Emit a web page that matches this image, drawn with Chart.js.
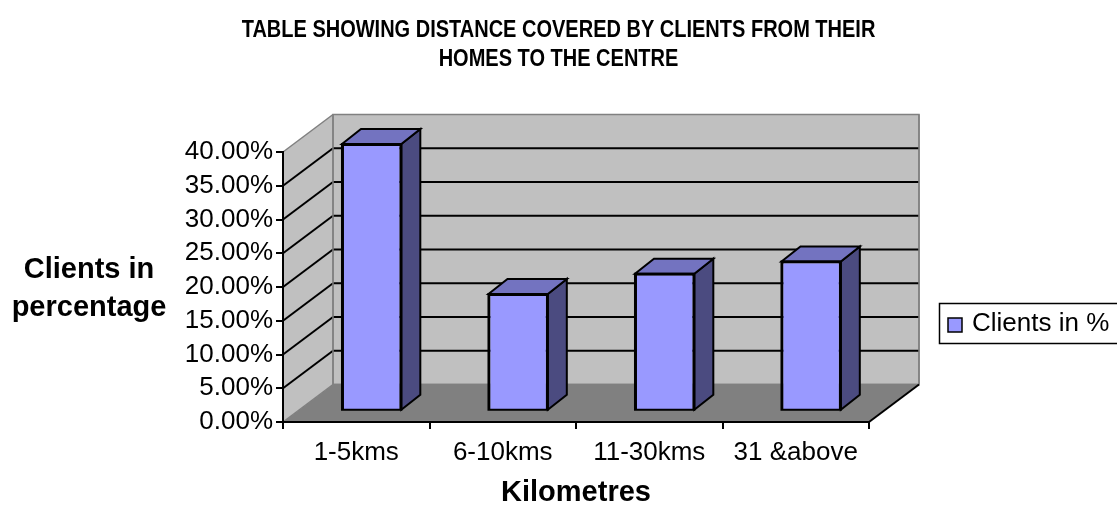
<!DOCTYPE html>
<html>
<head>
<meta charset="utf-8">
<script src="https://cdn.jsdelivr.net/npm/chart.js@4"></script>
<style>
  html, body { margin: 0; padding: 0; background: #ffffff; }
  canvas { display: block; }
</style>
</head>
<body>
<canvas id="c" width="1117" height="515"></canvas>
<script>
// ---- data ----
const categories = ['1-5kms', '6-10kms', '11-30kms', '31 &above'];
const clientsPct = [39.5, 17.3, 20.3, 22.1];
const seriesLabel = 'Clients in %';
const titleLines = ['TABLE SHOWING DISTANCE COVERED BY CLIENTS FROM THEIR', 'HOMES TO THE CENTRE'];
const yTitleLines = ['Clients in', 'percentage'];
const xTitle = 'Kilometres';
const yTickMin = 0, yTickMax = 40, yTickStep = 5;

// ---- style / geometry ----
const FONT = '"Liberation Sans", Arial, Helvetica, sans-serif';
const DX = 50, DY = -37.5;      // wall depth
const BX = 15.4, BY = -11.3;    // bar front offset into depth
const SX = 19, SY = -15;        // bar depth
const FRONT = '#9999FF', TOP = '#7373C0', SIDE = '#4B4B80';
const WALL = '#C0C0C0', FLOOR = '#808080', EDGE = '#808080';

function poly(ctx, pts, fill, stroke, lw) {
  ctx.beginPath();
  ctx.moveTo(pts[0][0], pts[0][1]);
  for (let i = 1; i < pts.length; i++) ctx.lineTo(pts[i][0], pts[i][1]);
  ctx.closePath();
  if (fill) { ctx.fillStyle = fill; ctx.fill(); }
  if (stroke) { ctx.strokeStyle = stroke; ctx.lineWidth = lw || 1; ctx.stroke(); }
}
function line(ctx, x1, y1, x2, y2, color, lw) {
  ctx.beginPath(); ctx.moveTo(x1, y1); ctx.lineTo(x2, y2);
  ctx.strokeStyle = color; ctx.lineWidth = lw; ctx.stroke();
}
function stretchedText(ctx, text, x, y, sy) {
  ctx.save();
  ctx.translate(x, y);
  ctx.scale(1, sy);
  ctx.fillText(text, 0, 0);
  ctx.restore();
}

const threeD = {
  id: 'threeD',
  beforeDraw(chart) {
    const ctx = chart.ctx, a = chart.chartArea, y = chart.scales.y;
    ctx.save();
    ctx.lineJoin = 'miter';
    // left wall
    poly(ctx, [[a.left, a.top], [a.left + DX, a.top + DY], [a.left + DX, a.bottom + DY], [a.left, a.bottom]], WALL);
    // back wall
    poly(ctx, [[a.left + DX, a.top + DY], [a.right + DX, a.top + DY], [a.right + DX, a.bottom + DY], [a.left + DX, a.bottom + DY]], WALL, EDGE, 1.5);
    // floor
    poly(ctx, [[a.left, a.bottom], [a.right, a.bottom], [a.right + DX, a.bottom + DY], [a.left + DX, a.bottom + DY]], FLOOR);
    // grid lines
    for (let v = yTickMin; v <= yTickMax + 1e-9; v += yTickStep) {
      const py = y.getPixelForValue(v);
      const edge = (v === yTickMin || v === yTickMax);
      line(ctx, a.left, py, a.left + DX, py + DY, edge ? EDGE : '#000', edge ? 1.5 : 2);
      if (!edge) line(ctx, a.left + DX, py + DY, a.right + DX, py + DY, '#000', 2);
    }
    // wall edges
    line(ctx, a.left + DX, a.top + DY, a.left + DX, a.bottom + DY, EDGE, 1.5);
    line(ctx, a.left + DX, a.bottom + DY, a.right + DX, a.bottom + DY, EDGE, 1.5);
    line(ctx, a.right + DX, a.top + DY, a.right + DX, a.bottom + DY, EDGE, 1.5);
    // floor right edge
    line(ctx, a.right, a.bottom, a.right + DX, a.bottom + DY, '#000', 2);
    ctx.restore();
  },
  beforeDatasetsDraw(chart) {
    chart.ctx.save();
    chart.ctx.translate(BX, BY);
  },
  afterDatasetsDraw(chart) {
    const ctx = chart.ctx;
    ctx.restore();
    ctx.save();
    ctx.lineJoin = 'miter';
    const meta = chart.getDatasetMeta(0);
    meta.data.forEach(bar => {
      const p = bar.getProps(['x', 'y', 'base', 'width'], true);
      const l = p.x - p.width / 2 + BX, r = p.x + p.width / 2 + BX;
      const t = p.y + BY, b = p.base + BY;
      poly(ctx, [[r, t], [r + SX, t + SY], [r + SX, b + SY], [r, b]], SIDE, '#000', 2);
      poly(ctx, [[l, t], [l + SX, t + SY], [r + SX, t + SY], [r, t]], TOP, '#000', 2);
      poly(ctx, [[l, t], [r, t], [r, b], [l, b]], null, '#000', 2);
    });
    ctx.restore();
  },
  afterDraw(chart) {
    const ctx = chart.ctx, a = chart.chartArea;
    ctx.save();
    ctx.fillStyle = '#000';
    ctx.textAlign = 'center';
    ctx.textBaseline = 'middle';
    // main title
    ctx.font = 'bold 20px ' + FONT;
    stretchedText(ctx, titleLines[0], 558.5, 30, 1.18);
    stretchedText(ctx, titleLines[1], 558.5, 59, 1.18);
    // y title
    ctx.font = 'bold 29px ' + FONT;
    ctx.fillText(yTitleLines[0], 89, 270);
    ctx.fillText(yTitleLines[1], 89, 308);
    // x title
    ctx.fillText(xTitle, (a.left + a.right) / 2, 493);
    // legend
    ctx.lineWidth = 1.5;
    ctx.strokeStyle = '#000';
    ctx.strokeRect(939.5, 303.5, 200, 40);
    ctx.fillStyle = FRONT;
    ctx.fillRect(948, 318, 14, 14);
    ctx.strokeRect(948, 318, 14, 14);
    ctx.fillStyle = '#000';
    ctx.textAlign = 'left';
    ctx.font = '26px ' + FONT;
    ctx.fillText(chart.data.datasets[0].label, 972, 324);
    ctx.restore();
  }
};

new Chart(document.getElementById('c'), {
  type: 'bar',
  data: {
    labels: categories,
    datasets: [{
      label: seriesLabel,
      data: clientsPct,
      backgroundColor: FRONT,
      borderColor: '#000',
      borderWidth: 2,
      barPercentage: 0.405,
      categoryPercentage: 1.0
    }]
  },
  options: {
    responsive: false,
    devicePixelRatio: 1,
    animation: false,
    layout: { padding: { left: 0, top: 152, right: 248, bottom: 0 } },
    plugins: { legend: { display: false }, title: { display: false }, tooltip: { enabled: false } },
    scales: {
      x: {
        afterFit(s) { s.height = 93; },
        grid: { offset: true, drawOnChartArea: false, drawTicks: true, tickLength: 7, color: '#000', lineWidth: 2 },
        border: { display: true, color: '#000', width: 2 },
        ticks: { color: '#000', font: { family: FONT, size: 26 }, padding: 8, maxRotation: 0, autoSkip: false }
      },
      y: {
        min: yTickMin, max: yTickMax,
        afterFit(s) { s.width = 283; },
        grid: { drawOnChartArea: false, drawTicks: true, tickLength: 7, color: '#000', lineWidth: 2 },
        border: { display: true, color: '#000', width: 2 },
        ticks: { stepSize: yTickStep, autoSkip: false, color: '#000', font: { family: FONT, size: 26 }, padding: 3,
                 callback: v => Number(v).toFixed(2) + '%' }
      }
    }
  },
  plugins: [threeD]
});
</script>
</body>
</html>
